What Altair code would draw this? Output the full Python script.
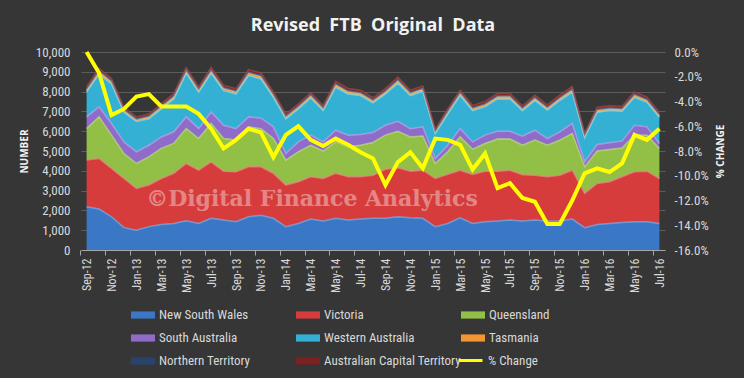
import altair as alt
import pandas as pd

months = ["Sep-12","Oct-12","Nov-12","Dec-12","Jan-13","Feb-13","Mar-13","Apr-13","May-13","Jun-13","Jul-13","Aug-13",
          "Sep-13","Oct-13","Nov-13","Dec-13","Jan-14","Feb-14","Mar-14","Apr-14","May-14","Jun-14","Jul-14","Aug-14",
          "Sep-14","Oct-14","Nov-14","Dec-14","Jan-15","Feb-15","Mar-15","Apr-15","May-15","Jun-15","Jul-15","Aug-15",
          "Sep-15","Oct-15","Nov-15","Dec-15","Jan-16","Feb-16","Mar-16","Apr-16","May-16","Jun-16","Jul-16"]

nsw = [2180,2070,1680,1130,1000,1180,1290,1340,1480,1340,1600,1510,
       1430,1680,1760,1600,1180,1340,1560,1460,1600,1510,1560,1600,
       1600,1680,1630,1600,1180,1340,1630,1340,1430,1460,1510,1460,
       1510,1460,1460,1560,1130,1290,1340,1390,1430,1430,1340]
vic = [2360,2550,2440,2480,2110,2100,2320,2530,2890,2690,2850,2470,
       2520,2520,2440,2270,2100,2110,2140,2150,2270,2190,2140,2180,
       2480,2470,2350,2430,2430,2480,2400,2480,2550,2520,2520,2340,
       2270,2240,2320,2470,1730,2070,2110,2310,2520,2550,2270]
qld = [1590,2100,1680,1260,1260,1420,1520,1510,1760,1600,1940,1650,
       1600,2020,1930,1760,1260,1510,1590,1380,1590,1510,1590,1650,
       1720,1850,1730,1730,760,1140,1680,1270,1400,1620,1570,1490,
       1770,1590,1770,1850,1340,1640,1630,1450,1850,1820,1520]
sa  = [590,510,590,590,590,590,580,590,590,500,580,670,
       580,500,540,590,330,500,510,470,590,590,540,500,
       500,500,420,460,250,330,420,370,420,400,400,460,
       500,340,420,510,250,330,340,350,500,420,250]
wa  = [1260,1660,2000,1500,1530,1340,1420,1660,2200,1840,1950,1750,
       1750,2090,1970,1490,1750,1660,1880,1580,2170,2080,1970,1500,
       1580,1930,1670,1800,1260,1580,1670,1580,1440,1630,1630,1280,
       1500,1440,1580,1580,1230,1630,1620,1510,1410,1240,1320]
tas = [110,120,110,100,90,100,110,110,120,110,120,110,
       110,120,120,110,100,100,110,100,120,110,110,100,
       110,120,110,110,90,100,110,100,100,110,110,100,
       110,100,110,120,90,100,100,100,110,100,100]
nt  = [50,50,50,40,40,40,50,50,60,50,60,50,
       50,60,60,50,40,50,50,50,60,50,50,50,
       50,60,50,50,40,50,50,50,50,50,50,40,
       50,50,50,50,40,40,40,40,50,50,40]
act = [110,120,110,100,100,100,110,110,120,110,120,110,
       110,120,120,110,100,100,110,110,120,120,110,110,
       110,120,110,110,100,110,110,110,110,110,110,110,
       110,110,110,120,100,110,110,110,120,110,110]
pct_change = [0.0,-1.7,-5.1,-4.6,-3.6,-3.4,-4.4,-4.4,-4.4,-5.0,-6.2,-7.8,
              -7.1,-6.2,-6.5,-8.5,-6.7,-6.0,-7.1,-7.6,-7.0,-7.5,-8.1,-8.6,
              -10.75,-8.9,-8.1,-9.4,-7.0,-7.1,-7.5,-9.5,-8.2,-11.0,-10.6,-11.8,
              -12.1,-13.9,-13.9,-12.0,-9.8,-9.4,-9.7,-9.0,-6.7,-7.1,-6.2]

series_names = ["New South Wales","Victoria","Queensland","South Australia","Western Australia",
                "Tasmania","Northern Territory","Australian Capital Territory"]
series_vals = [nsw, vic, qld, sa, wa, tas, nt, act]
colors = ["#3a78c6","#d63c3c","#92bf45","#8f6cc9","#34b0d4","#f39533","#27446d","#7b2121"]
highlight_colors = ["#7fb2f0","#f08a8a","#c2e682","#c3a6f2","#86e4f7","#ffc680","#4d72a6","#a84848"]
line_name = ["% Change"]
line_color = ["#ffff00"]

rows = []
for k, (name, vals) in enumerate(zip(series_names, series_vals)):
    for m, v in zip(months, vals):
        rows.append({"month": m, "state": name, "value": v, "idx": k})
area_df = pd.DataFrame(rows)
line_df = pd.DataFrame({"month": months, "pct": pct_change, "series": line_name * len(months)})

W, H = 584, 198
PL, PT, PR, PB = 81, 52, 79, 128
label_font = "Liberation Sans Narrow, Roboto Condensed, DejaVu Sans Condensed, Roboto"
rect_shape = "M-1,-0.3L1,-0.3L1,0.3L-1,0.3Z"

x_enc = alt.X("month:O", sort=months,
              scale=alt.Scale(type="point", padding=0.45),
              axis=alt.Axis(values=months[::2], labelAngle=-90, title=None,
                            labelFont=label_font, labelFontSize=12, labelColor="#d9d9d9",
                            domainColor="#a6a6a6", tickColor="#a6a6a6", tickSize=5,
                            tickOffset=-6.2, labelOffset=6.2, labelPadding=3, grid=False))

def y_scale():
    return alt.Scale(domain=[0, 10000], nice=False)

areas = alt.Chart(area_df).mark_area(opacity=1).encode(
    x=x_enc,
    y=alt.Y("value:Q", stack="zero", scale=y_scale(),
            axis=alt.Axis(values=list(range(0, 10001, 1000)), format=",.0f", orient="left",
                          title="NUMBER", titleFont="Open Sans", titleFontWeight="bold",
                          titleFontSize=10, titleColor="#f2f2f2", titleAngle=270,
                          titleX=-57, titleY=H / 2, titleAlign="center", titleBaseline="middle",
                          labelFont=label_font, labelFontSize=13, labelColor="#d9d9d9",
                          labelPadding=11, domain=False, ticks=False,
                          grid=True, gridColor="#5c5c5c", gridWidth=1, gridOpacity=1)),
    color=alt.Color("state:N", sort=series_names,
                    scale=alt.Scale(domain=series_names, range=colors),
                    legend=alt.Legend(
                        orient="none", legendX=50, legendY=251, columns=3, direction="horizontal",
                        title=None, symbolType=rect_shape, symbolSize=576, symbolStrokeWidth=0,
                        labelFont=label_font, labelFontSize=13, labelColor="#d9d9d9",
                        labelOffset=4, columnPadding=0, rowPadding=4, gridAlign="all",
                        labelLimit=300, symbolOpacity=1)),
    order=alt.Order("idx:Q", sort="ascending"),
)

highlights = alt.Chart(area_df).transform_stack(
    stack="value", groupby=["month"], sort=[alt.SortField("idx", order="ascending")], as_=["y0", "y1"]
).mark_line(strokeWidth=1.5, opacity=0.7).encode(
    x=x_enc,
    y=alt.Y("y1:Q", scale=y_scale(), axis=None),
    stroke=alt.Stroke("state:N", scale=alt.Scale(domain=series_names, range=highlight_colors), legend=None),
    detail="state:N",
)

line = alt.Chart(line_df).mark_line(strokeWidth=4).encode(
    x=x_enc,
    y=alt.Y("pct:Q", scale=alt.Scale(domain=[-16, 0], nice=False),
            axis=alt.Axis(orient="right", values=list(range(-16, 1, 2)),
                          labelExpr="(datum.value < 0 ? '-' : '') + format(abs(datum.value), '.1f') + '%'",
                          title="% CHANGE", titleFont="Open Sans", titleFontWeight="bold",
                          titleFontSize=10, titleColor="#f2f2f2", titleAngle=270,
                          titleX=55, titleY=H / 2, titleAlign="center", titleBaseline="middle",
                          labelFont=label_font, labelFontSize=13, labelColor="#d9d9d9",
                          labelPadding=9, domain=False, ticks=False, grid=False)),
    stroke=alt.Stroke("series:N", scale=alt.Scale(domain=line_name, range=line_color),
                      legend=alt.Legend(orient="none", legendX=376, legendY=295, title=None,
                                        symbolType="stroke", symbolSize=576, symbolStrokeWidth=3,
                                        labelFont=label_font, labelFontSize=13, labelColor="#d9d9d9",
                                        labelOffset=4)),
)

watermark = alt.Chart(pd.DataFrame({"t": ["\u00a9Digital Finance Analytics"]})).mark_text(
    font="DejaVu Serif", fontWeight="bold", fontSize=22, color="#ffffff", opacity=0.38,
    align="center", baseline="alphabetic"
).encode(x=alt.value(231), y=alt.value(154), text="t:N")

title = alt.Chart(pd.DataFrame({"t": ["Revised\u00a0 FTB\u00a0 Original\u00a0 Data"]})).mark_text(
    font="Open Sans", fontWeight="bold", fontSize=18, color="#f2f2f2",
    align="center", baseline="alphabetic"
).encode(x=alt.value(292), y=alt.value(-21), text="t:N")

chart = alt.layer(areas, highlights, line, watermark, title).resolve_scale(
    y="independent", stroke="independent"
).properties(
    width=W, height=H,
    autosize="none",
    padding={"left": PL, "top": PT, "right": PR, "bottom": PB},
    background="#363636",
).configure_view(stroke=None)

chart.save("out.html", embed_options={"renderer": "svg", "actions": False})
